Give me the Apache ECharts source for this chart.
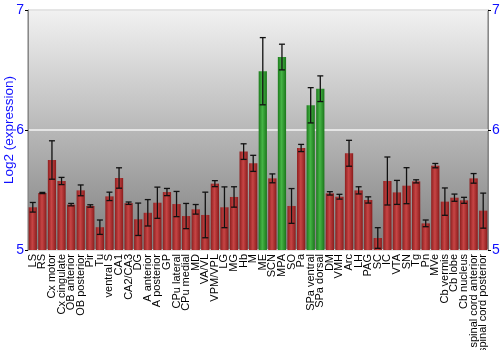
<!DOCTYPE html>
<html><head><meta charset="utf-8">
<script src="https://cdn.jsdelivr.net/npm/echarts@6/dist/echarts.min.js"></script>
<style>html,body{margin:0;padding:0;background:#fff}#c{width:500px;height:350px}</style>
</head><body><div id="c"></div>
<script>
var categories = ["LS","RS","Cx motor","Cx cingulate","OB anterior","OB posterior","Pir","Tu","ventral S","CA1","CA2/CA3","DG","A anterior","A posterior","GP","CPu lateral","CPu medial","MD","VA/VL","VPM/VPL","LG","MG","Hb","M","ME","SCN","MPA","SO","Pa","SPa ventral","SPa dorsal","DM","VMH","Arc","LH","PAG","SC","IC","VTA","SN","Tg","Pn","MVe","Cb vermis","Cb lobe","Cb nucleus","spinal cord anterior","spinal cord posterior"];
var values = [5.356,5.475,5.75,5.575,5.378,5.497,5.367,5.19,5.447,5.60,5.39,5.256,5.31,5.394,5.483,5.383,5.283,5.339,5.292,5.553,5.356,5.442,5.82,5.722,6.49,5.597,6.608,5.367,5.85,6.206,6.344,5.472,5.444,5.806,5.497,5.417,5.10,5.575,5.48,5.536,5.572,5.222,5.703,5.403,5.436,5.414,5.597,5.328];
var errors = [0.04,0.005,0.16,0.03,0.01,0.045,0.01,0.06,0.035,0.085,0.01,0.135,0.11,0.13,0.03,0.105,0.105,0.04,0.19,0.025,0.17,0.085,0.065,0.067,0.28,0.037,0.107,0.145,0.03,0.147,0.107,0.014,0.02,0.108,0.03,0.026,0.086,0.2,0.1,0.15,0.013,0.028,0.018,0.114,0.03,0.025,0.04,0.146];
var highlighted = ["ME","MPA","SPa ventral","SPa dorsal"];
var yTicks = [5,6,7];

var redGrad = new echarts.graphic.LinearGradient(0,0,1,0,[{offset:0,color:'#8e1f1f'},{offset:0.45,color:'#c74545'},{offset:1,color:'#8a1c1c'}]);
var greenGrad = new echarts.graphic.LinearGradient(0,0,1,0,[{offset:0,color:'#1d7a1d'},{offset:0.45,color:'#45b445'},{offset:1,color:'#1b761b'}]);

var barData = values.map(function(v,i){
  return {value:v, itemStyle:{color: highlighted.indexOf(categories[i])>=0 ? greenGrad : redGrad}};
});
var errData = values.map(function(v,i){ return [i, v-errors[i], v+errors[i]]; });

var chart = echarts.init(document.getElementById('c'));
var font = 'Liberation Sans, Arial, sans-serif';
chart.setOption({
  animation:false,
  grid:{left:28,right:12,top:10,bottom:100,containLabel:false,outerBoundsMode:'none',show:true,borderWidth:1,borderColor:'#777',
    backgroundColor:new echarts.graphic.LinearGradient(0,0,0,1,[{offset:0,color:'#f2f2f2'},{offset:0.5,color:'#b8b8b8'},{offset:1,color:'#7e7e7e'}])},
  xAxis:{type:'category',data:categories,
    axisLine:{show:false},axisTick:{show:false},
    axisLabel:{rotate:90,interval:0,fontSize:11,color:'#000',fontFamily:font,margin:4}},
  yAxis:[
    {type:'value',min:yTicks[0],max:yTicks[yTicks.length-1],interval:1,position:'left',
     name:'Log2 (expression)',nameLocation:'middle',nameGap:12,nameRotate:90,nameMoveOverlap:false,
     nameTextStyle:{color:'#1010ff',fontSize:13.5,fontFamily:font},
     axisLine:{show:true,lineStyle:{color:'#888',width:1}},
     axisTick:{show:true,length:3,lineStyle:{color:'#000'}},
     axisLabel:{color:'#1010ff',fontSize:14,fontFamily:font,margin:4},
     splitLine:{show:true,lineStyle:{color:'#f4f4f4',width:1.5}}},
    {type:'value',min:yTicks[0],max:yTicks[yTicks.length-1],interval:1,position:'right',
     axisLine:{show:true,lineStyle:{color:'#888',width:1}},
     axisTick:{show:true,length:3,lineStyle:{color:'#000'}},
     axisLabel:{color:'#1010ff',fontSize:14,fontFamily:font,margin:4},
     splitLine:{show:false}}
  ],
  series:[
    {type:'bar',data:barData,barCategoryGap:'14%',z:3},
    {type:'custom',z:5,data:errData,
     renderItem:function(params,api){
       var x=api.value(0);
       var lo=api.coord([x,api.value(1)]);
       var hi=api.coord([x,api.value(2)]);
       var hw=3;
       var st={stroke:'#111',lineWidth:1.3};
       return {type:'group',children:[
         {type:'line',shape:{x1:lo[0],y1:lo[1],x2:hi[0],y2:hi[1]},style:st},
         {type:'line',shape:{x1:lo[0]-hw,y1:lo[1],x2:lo[0]+hw,y2:lo[1]},style:st},
         {type:'line',shape:{x1:hi[0]-hw,y1:hi[1],x2:hi[0]+hw,y2:hi[1]},style:st}
       ]};
     }}
  ]
});
</script></body></html>
